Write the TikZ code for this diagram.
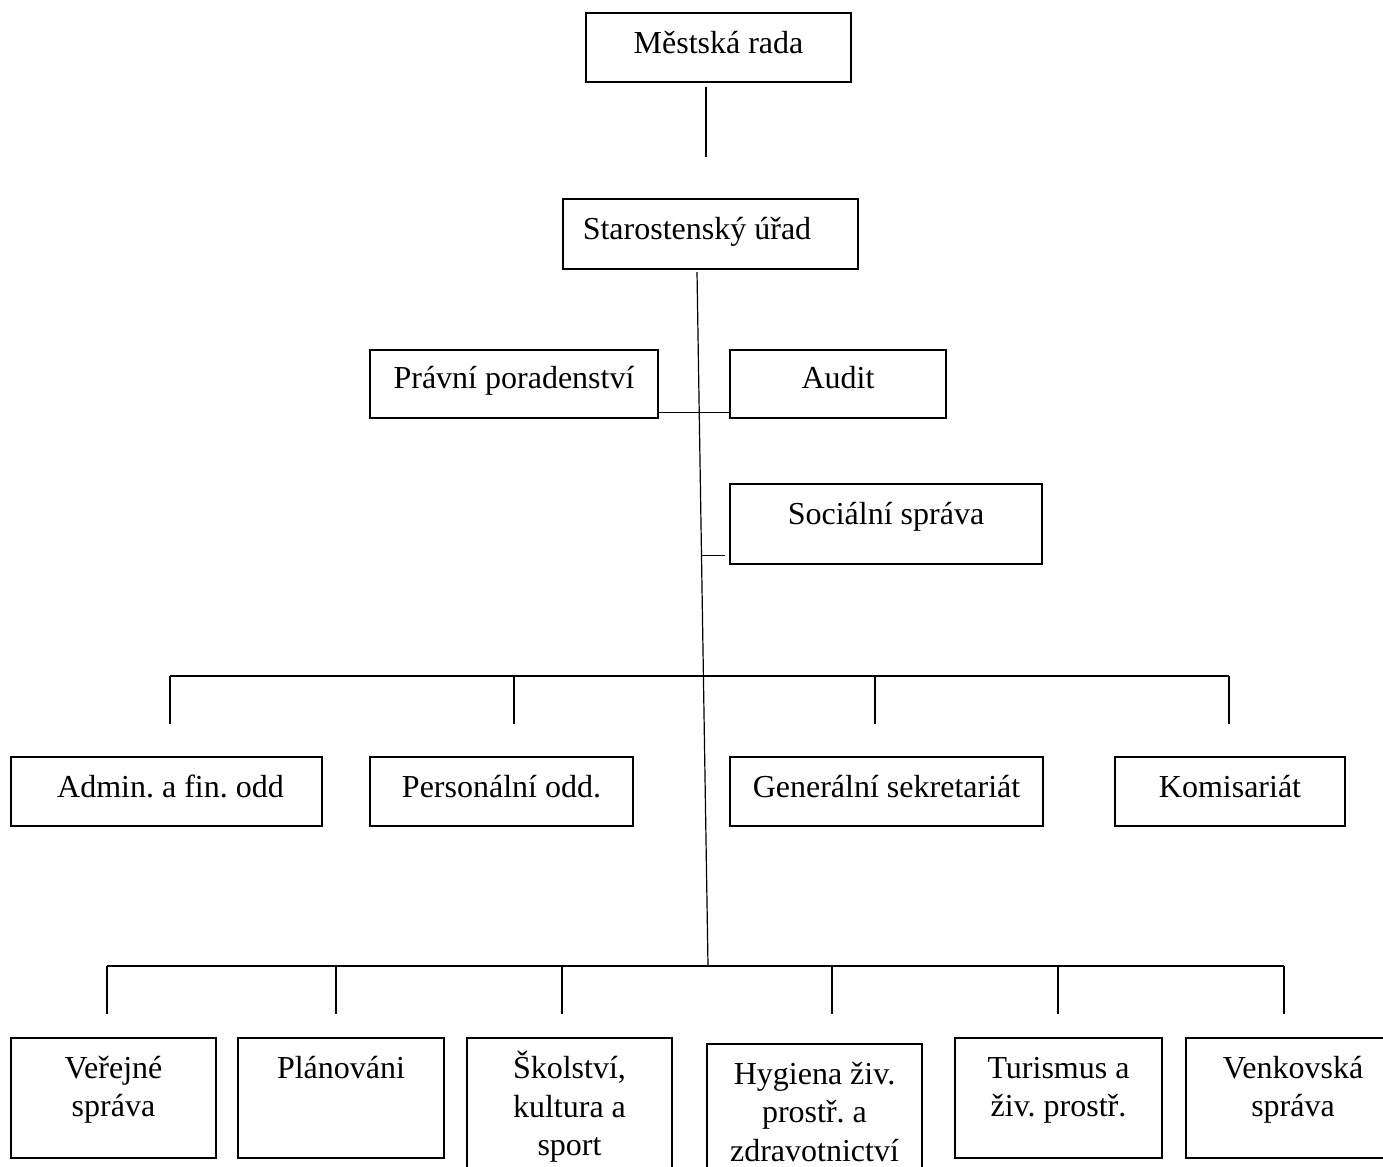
\documentclass[tikz,border=0pt]{standalone}
\usepackage{fontspec}
\setmainfont{Liberation Serif}
\frenchspacing
\usetikzlibrary{calc,positioning,fit}

\begin{document}
\begin{tikzpicture}[
            x=0.75pt, y=-0.75pt,
            every path/.append style={black,line width=0.9pt},
            box/.style={draw,line width=1.2pt,inner sep=0pt},
            lbl/.style={inner sep=0pt,align=center,font=\fontsize{24}{29}\selectfont,execute at begin node=\strut}
        ]
            \useasboundingbox (0,0) rectangle (1383,1166);

            % boxes
            \node[box,fit={(586,13) (851,82)}] (rada) {};
            \node[box,fit={(563,199) (858,269)}] (staro) {};
            \node[box,fit={(370,350) (658,418)}] (pravni) {};
            \node[box,fit={(730,350) (946,418)}] (audit) {};
            \node[box,fit={(730,484) (1042,564)}] (social) {};
            \node[box,fit={(11,757) (322,826)}] (admin) {};
            \node[box,fit={(370,757) (633,826)}] (pers) {};
            \node[box,fit={(730,757) (1043,826)}] (gen) {};
            \node[box,fit={(1115,757) (1345,826)}] (komis) {};
            \node[box,fit={(11,1038) (216,1158)}] (verej) {};
            \node[box,fit={(238,1038) (444,1158)}] (plan) {};
            \node[box,fit={(467,1038) (672,1200)}] (skol) {};
            \node[box,fit={(707,1044) (922,1200)}] (hyg) {};
            \node[box,fit={(955,1038) (1162,1158)}] (tur) {};
            \node[box,fit={(1186,1038) (1400,1158)}] (venk) {};

            % texts
            \node[lbl,below=10pt of rada.north] (rada-t) {Městská rada};
            \node[lbl,below right=10pt and 15pt of staro.north west] (staro-t) {Starostenský úřad};
            \node[lbl,below=9pt of pravni.north] (pravni-t) {Právní poradenství};
            \node[lbl,below=9pt of audit.north] (audit-t) {Audit};
            \node[lbl,below=10pt of social.north] (social-t) {Sociální správa};
            \node[lbl,below=10pt of admin.north,xshift=3pt] (admin-t) {Admin. a fin. odd};
            \node[lbl,below=10pt of pers.north] (pers-t) {Personální odd.};
            \node[lbl,below=10pt of gen.north] (gen-t) {Generální sekretariát};
            \node[lbl,below=10pt of komis.north] (komis-t) {Komisariát};
            \node[lbl,below=10pt of verej.north] (verej-t) {\strut Veřejné\\správa};
            \node[lbl,below=10pt of plan.north] (plan-t) {Plánováni};
            \node[lbl,below=10pt of skol.north] (skol-t) {\strut Školství,\\kultura a\\sport};
            \node[lbl,below=10pt of hyg.north] (hyg-t) {\strut Hygiena živ.\\prostř. a\\zdravotnictví};
            \node[lbl,below=10pt of tur.north] (tur-t) {\strut Turismus a\\živ. prostř.};
            \node[lbl,below=10pt of venk.north] (venk-t) {\strut Venkovská\\správa};

            % lines
            \coordinate (radaend) at (706,157);
            \draw ($(rada.south -| radaend)+(0,4)$) -- (radaend);

            \coordinate (trunktop) at (697,272);
            \coordinate (trunkbot) at (708,966);
            \draw (trunktop) -- (trunkbot);

            \draw ($(pravni.south east)+(0,-6)$) -- ($(audit.south west)+(0,-6)$);

            \coordinate (socjoin) at ($(trunktop)!0.408!(trunkbot)$);
            \draw (socjoin) -- ($(socjoin -| social.west)+(-4,0)$);

            \draw (170,676) -- (1229,676);
            \foreach \x in {170,514,875,1229}
                \draw (\x,676) -- (\x,724);

            \draw (107,966) -- (1284,966);
            \foreach \x in {107,336,562,832,1058,1284}
                \draw (\x,966) -- (\x,1014);
        \end{tikzpicture}
\end{document}
